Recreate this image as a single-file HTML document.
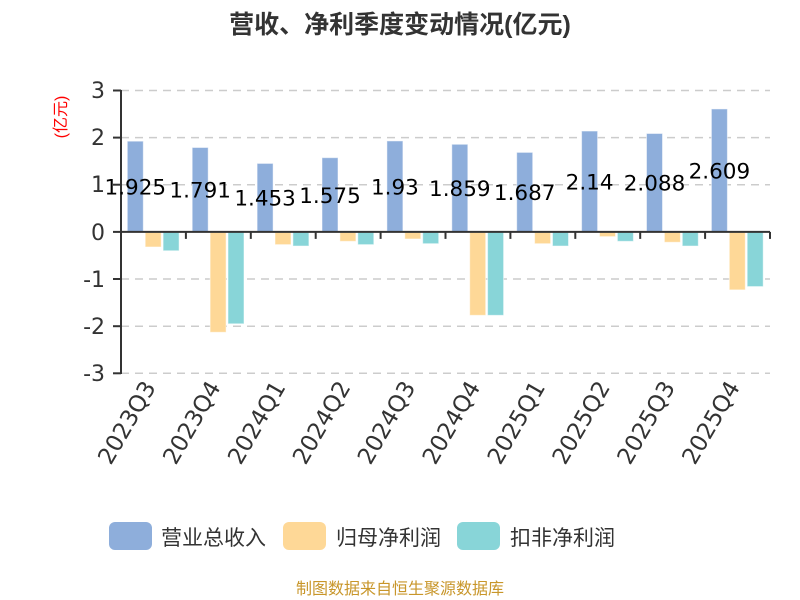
<!DOCTYPE html>
<html><head><meta charset="utf-8"><style>
html,body{margin:0;padding:0;background:#fff;}
svg{display:block;font-family:"Liberation Sans","Noto Sans CJK SC",sans-serif;}
.d{font-family:"DejaVu Sans","Liberation Sans",sans-serif;}
</style></head><body>
<svg width="800" height="600" viewBox="0 0 800 600" xmlns="http://www.w3.org/2000/svg">
<text x="400" y="33" text-anchor="middle" font-size="25" font-weight="bold" fill="#333">营收、净利季度变动情况(亿元)</text>
<text transform="translate(66,117) rotate(-90)" text-anchor="middle" font-size="16" fill="#f00">(亿元)</text>
<g stroke="#ccc" stroke-width="1.5" stroke-dasharray="8,6">
<line x1="121" y1="90.5" x2="770" y2="90.5"/>
<line x1="121" y1="137.6" x2="770" y2="137.6"/>
<line x1="121" y1="184.7" x2="770" y2="184.7"/>
<line x1="121" y1="279" x2="770" y2="279"/>
<line x1="121" y1="326.2" x2="770" y2="326.2"/>
<line x1="121" y1="373.3" x2="770" y2="373.3"/>
</g>
<g class="d" font-size="22" fill="#333" text-anchor="end">
<text x="105" y="98">3</text><text x="105" y="145">2</text><text x="105" y="192">1</text>
<text x="105" y="240">0</text><text x="105" y="287">-1</text><text x="105" y="334">-2</text><text x="105" y="381">-3</text>
</g>
<g id="bars"></g>
<line x1="121" y1="90" x2="121" y2="374" stroke="#333" stroke-width="2"/>
<line x1="113" y1="90.5" x2="121" y2="90.5" stroke="#333" stroke-width="2"/>
<line x1="113" y1="137.6" x2="121" y2="137.6" stroke="#333" stroke-width="2"/>
<line x1="113" y1="184.7" x2="121" y2="184.7" stroke="#333" stroke-width="2"/>
<line x1="113" y1="231.9" x2="121" y2="231.9" stroke="#333" stroke-width="2"/>
<line x1="113" y1="279" x2="121" y2="279" stroke="#333" stroke-width="2"/>
<line x1="113" y1="326.2" x2="121" y2="326.2" stroke="#333" stroke-width="2"/>
<line x1="113" y1="373.3" x2="121" y2="373.3" stroke="#333" stroke-width="2"/>
<line x1="121" y1="231.9" x2="770" y2="231.9" stroke="#333" stroke-width="2"/>
<g id="ticks" stroke="#333" stroke-width="2"></g>
<g id="labels" class="d" font-size="21.5" fill="#000" text-anchor="middle"></g>
<g id="xl" class="d" font-size="23" fill="#333" text-anchor="end"></g>
<rect x="109" y="522" width="43" height="28" rx="6" fill="#8eaedb"/>
<text x="161" y="545" font-size="21" fill="#333">营业总收入</text>
<rect x="283" y="522" width="43" height="28" rx="6" fill="#fed897"/>
<text x="336" y="545" font-size="21" fill="#333">归母净利润</text>
<rect x="457" y="522" width="43" height="28" rx="6" fill="#88d5d8"/>
<text x="510" y="545" font-size="21" fill="#333">扣非净利润</text>
<text x="400" y="594" text-anchor="middle" font-size="16" fill="#c8962a">制图数据来自恒生聚源数据库</text>
<script>
var cats=["2023Q3","2023Q4","2024Q1","2024Q2","2024Q3","2024Q4","2025Q1","2025Q2","2025Q3","2025Q4"];
var r=[1.925,1.791,1.453,1.575,1.93,1.859,1.687,2.14,2.088,2.609];
var o=[-0.32,-2.13,-0.27,-0.20,-0.15,-1.77,-0.25,-0.10,-0.22,-1.23];
var t=[-0.40,-1.95,-0.30,-0.27,-0.25,-1.77,-0.30,-0.20,-0.30,-1.16];
var z=231.9,u=47.13,w=64.9,ns="http://www.w3.org/2000/svg";
function el(p,n,a,tx){var e=document.createElementNS(ns,n);for(var k in a)e.setAttribute(k,a[k]);if(tx)e.textContent=tx;document.getElementById(p).appendChild(e);}
function bar(x,v,c){var h=Math.abs(v)*u;el("bars","rect",{x:x,y:v>0?z-h:z,width:16,height:h,fill:c,stroke:"#fff","stroke-opacity":"0.5"});}
for(var i=0;i<10;i++){var x0=121+i*w;
bar(x0+6.3,r[i],"#8eaedb");bar(x0+24.2,o[i],"#fed897");bar(x0+42.1,t[i],"#88d5d8");
el("ticks","line",{x1:x0+w,y1:z,x2:x0+w,y2:z+7});
var my=z-r[i]*u/2+4;el("labels","text",{x:x0+14.3,y:my+4},String(r[i]));
var cx=x0+w/2+3;el("xl","text",{transform:"translate("+cx+",387) rotate(-60)"},cats[i]);}
</script>
</svg>
</body></html>
